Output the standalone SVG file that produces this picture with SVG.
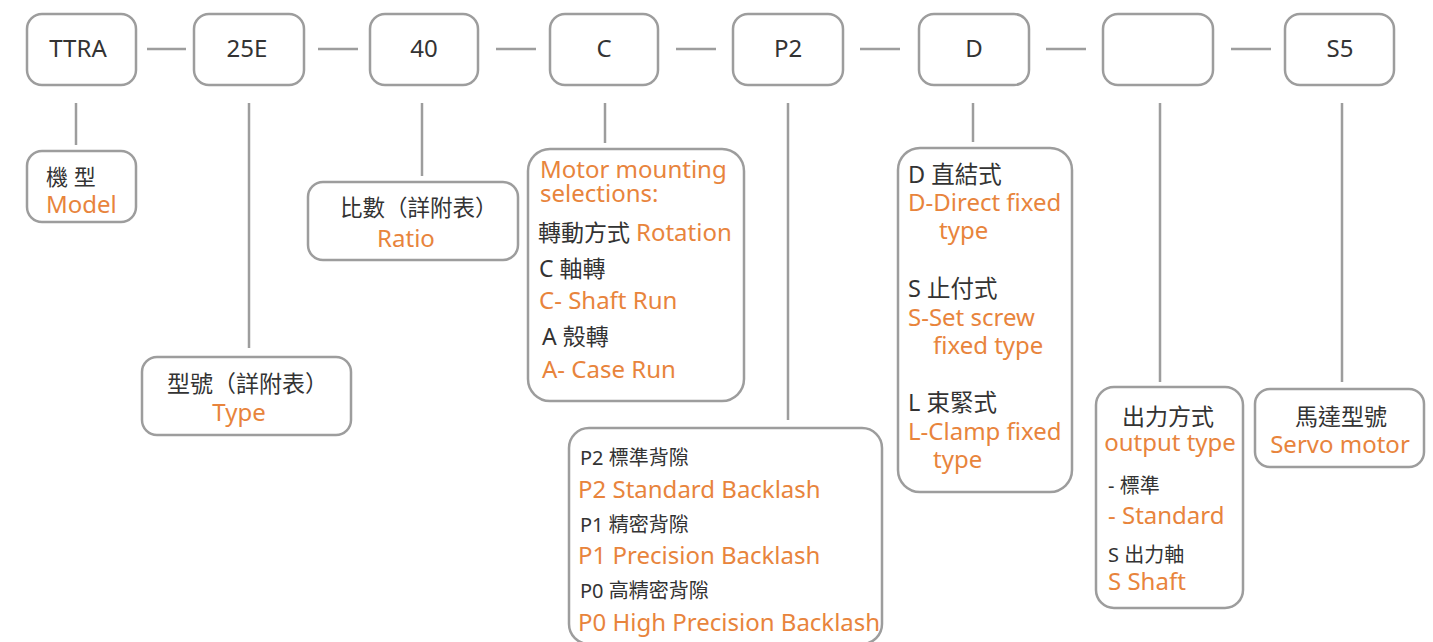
<svg xmlns="http://www.w3.org/2000/svg" width="1433" height="642" viewBox="0 0 1433 642">
<style>
.box{fill:#fff;stroke:#9d9d9d;stroke-width:2.5}
.ln{stroke:#9d9d9d;stroke-width:2.5;fill:none}
text{font-family:"Noto Sans","Noto Sans CJK TC",sans-serif}
.top{font-size:24px;fill:#333;text-anchor:middle}
.k{fill:#333}
.o{fill:#e8843c;font-size:24px}
.c{text-anchor:middle}
</style>
<rect width="1433" height="642" fill="#fff"/>
<g id="connectors">
<line class="ln" x1="147" y1="49" x2="186" y2="49"/>
<line class="ln" x1="318" y1="49" x2="358" y2="49"/>
<line class="ln" x1="496" y1="49" x2="536" y2="49"/>
<line class="ln" x1="676" y1="49" x2="716" y2="49"/>
<line class="ln" x1="860" y1="49" x2="900" y2="49"/>
<line class="ln" x1="1046" y1="49" x2="1086" y2="49"/>
<line class="ln" x1="1231" y1="49" x2="1271" y2="49"/>
<line class="ln" x1="76" y1="103" x2="76" y2="145"/>
<line class="ln" x1="249" y1="103" x2="249" y2="348"/>
<line class="ln" x1="422" y1="103" x2="422" y2="176"/>
<line class="ln" x1="605" y1="103" x2="605" y2="143"/>
<line class="ln" x1="788" y1="103" x2="788" y2="420"/>
<line class="ln" x1="973" y1="103" x2="973" y2="142"/>
<line class="ln" x1="1160" y1="103" x2="1160" y2="382"/>
<line class="ln" x1="1342" y1="103" x2="1342" y2="382"/>
</g>
<g id="n-ttra"><rect class="box" x="27" y="14" width="109" height="71" rx="15"/><text class="top" x="78" y="57">TTRA</text></g>
<g id="n-25e"><rect class="box" x="194" y="14" width="110" height="71" rx="15"/><text class="top" x="247" y="57">25E</text></g>
<g id="n-40"><rect class="box" x="370" y="14" width="108" height="71" rx="15"/><text class="top" x="424" y="57">40</text></g>
<g id="n-c"><rect class="box" x="550" y="14" width="108" height="71" rx="15"/><text class="top" x="604" y="57">C</text></g>
<g id="n-p2"><rect class="box" x="733" y="14" width="110" height="71" rx="15"/><text class="top" x="788" y="57">P2</text></g>
<g id="n-d"><rect class="box" x="919" y="14" width="110" height="71" rx="15"/><text class="top" x="974" y="57">D</text></g>
<g id="n-empty"><rect class="box" x="1103" y="14" width="110" height="71" rx="15"/></g>
<g id="n-s5"><rect class="box" x="1285" y="14" width="109" height="71" rx="15"/><text class="top" x="1340" y="57">S5</text></g>

<g id="d-model"><rect class="box" x="27" y="151" width="109" height="71" rx="15"/>
<text class="k" x="46" y="185" style="font-size:22px">機 型</text>
<text class="o" x="46" y="213">Model</text></g>

<g id="d-ratio"><rect class="box" x="308" y="182" width="210" height="78" rx="15"/>
<text class="k" x="340" y="216" style="font-size:22.5px">比數（詳附表）</text>
<text class="o c" x="406" y="247">Ratio</text></g>

<g id="d-type"><rect class="box" x="142" y="357" width="209" height="78" rx="15"/>
<text class="k" x="167" y="392" style="font-size:23px">型號（詳附表）</text>
<text class="o c" x="239" y="421">Type</text></g>

<g id="d-mount"><rect class="box" x="528" y="149" width="216" height="252" rx="22"/>
<text class="o" x="540" y="178">Motor mounting</text>
<text class="o" x="540" y="202">selections:</text>
<text x="538" y="241"><tspan class="k" style="font-size:23px">轉動方式 </tspan><tspan class="o">Rotation</tspan></text>
<text class="k" x="539" y="277" style="font-size:23px">C 軸轉</text>
<text class="o" x="539" y="309">C- Shaft Run</text>
<text class="k" x="542" y="345" style="font-size:23px">A 殼轉</text>
<text class="o" x="542" y="378">A- Case Run</text></g>

<g id="d-backlash"><rect class="box" x="569" y="428" width="313" height="216" rx="20"/>
<text class="k" x="580" y="465" style="font-size:20px">P2 標準背隙</text>
<text class="o" x="578" y="498">P2 Standard Backlash</text>
<text class="k" x="580" y="532" style="font-size:20px">P1 精密背隙</text>
<text class="o" x="578" y="564">P1 Precision Backlash</text>
<text class="k" x="580" y="598" style="font-size:20px">P0 高精密背隙</text>
<text class="o" x="578" y="631">P0 High Precision Backlash</text></g>

<g id="d-fix"><rect class="box" x="898" y="148" width="174" height="344" rx="22"/>
<text class="k" x="908" y="183" style="font-size:23.5px">D 直結式</text>
<text class="o" x="908" y="211">D-Direct fixed</text>
<text class="o" x="939" y="239">type</text>
<text class="k" x="908" y="297" style="font-size:23.5px">S 止付式</text>
<text class="o" x="908" y="326">S-Set screw</text>
<text class="o" x="933" y="354">fixed type</text>
<text class="k" x="908" y="411" style="font-size:23.5px">L 束緊式</text>
<text class="o" x="908" y="440">L-Clamp fixed</text>
<text class="o" x="933" y="468">type</text></g>

<g id="d-output"><rect class="box" x="1096" y="387" width="147" height="221" rx="18"/>
<text class="k c" x="1168" y="425" style="font-size:23px">出力方式</text>
<text class="o c" x="1170" y="451">output type</text>
<text class="k" x="1108" y="493" style="font-size:20px">- 標準</text>
<text class="o" x="1108" y="524">- Standard</text>
<text class="k" x="1108" y="562" style="font-size:20px">S 出力軸</text>
<text class="o" x="1108" y="590">S Shaft</text></g>

<g id="d-servo"><rect class="box" x="1255" y="389" width="169" height="78" rx="15"/>
<text class="k c" x="1341" y="425" style="font-size:23px">馬達型號</text>
<text class="o c" x="1340" y="453">Servo motor</text></g>
</svg>
